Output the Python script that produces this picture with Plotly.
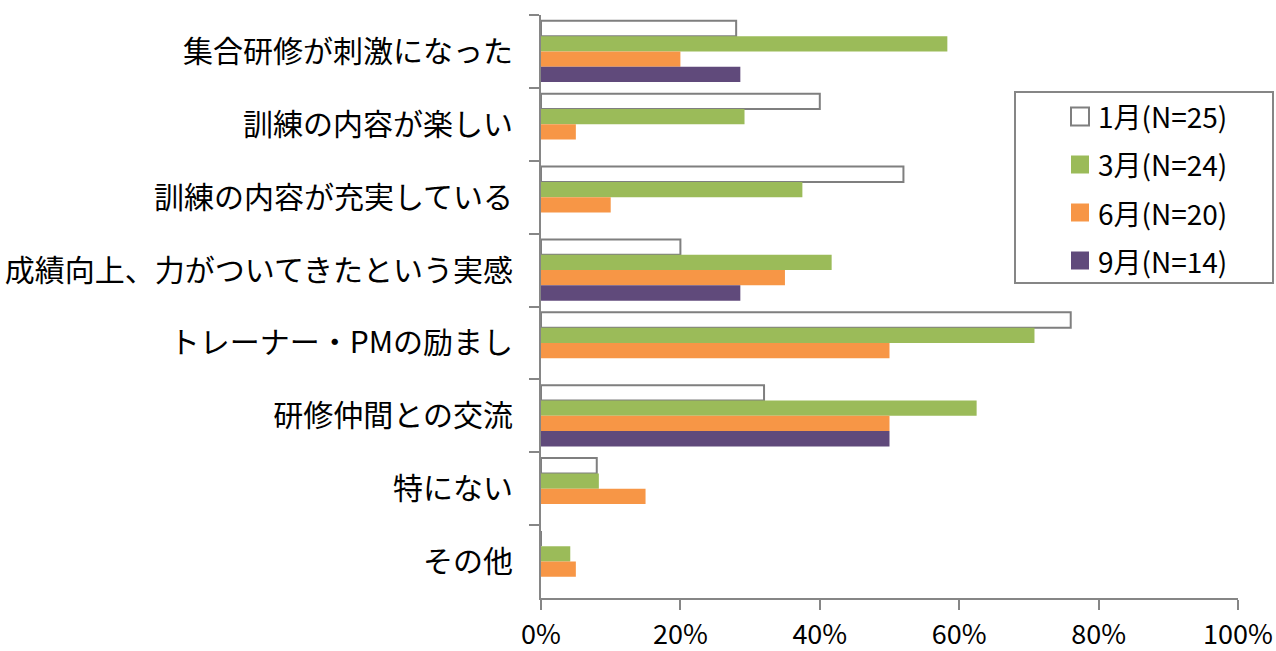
import plotly.graph_objects as go

# Survey categories (top to bottom)
categories = [
    "集合研修が刺激になった",
    "訓練の内容が楽しい",
    "訓練の内容が充実している",
    "成績向上、力がついてきたという実感",
    "トレーナー・PMの励まし",
    "研修仲間との交流",
    "特にない",
    "その他",
]

# Share of respondents (%) per survey month
series_names = ["1月(N=25)", "3月(N=24)", "6月(N=20)", "9月(N=14)"]
jan = [28, 40, 52, 20, 76, 32, 8, 0]
mar = [58.3, 29.2, 37.5, 41.7, 70.8, 62.5, 8.3, 4.2]
jun = [20, 5, 10, 35, 50, 50, 15, 5]
sep = [28.6, 0, 0, 28.6, 0, 50, 0, 0]

x_ticks = [0, 20, 40, 60, 80, 100]

fills = ["#FFFFFF", "#9BBB59", "#F79646", "#604A7B"]
edges = ["#7F7F7F", "#9BBB59", "#F79646", "#604A7B"]
edge_w = [2, 0, 0, 0]

FONT = "Noto Sans CJK JP, Noto Sans, sans-serif"
AXIS_GREY = "#868686"

W, H = 1276, 651
L, R, T, B = 541, 38, 15, 53
PW, PH = W - L - R, H - T - B

fig = go.Figure()
for name, vals, fc, ec, lw in zip(series_names, [jan, mar, jun, sep], fills, edges, edge_w):
    fig.add_trace(go.Bar(
        y=categories, x=vals, name=name, orientation="h",
        marker=dict(color=fc, line=dict(color=ec, width=lw)),
        showlegend=False,
    ))


def px_x(px):
    return (px - L) / PW


def px_y(py):
    return 1 - (py - T) / PH


# Legend drawn as a framed box with swatches and labels
shapes = [dict(type="rect", xref="paper", yref="paper",
               x0=px_x(1015), x1=px_x(1273), y0=px_y(283), y1=px_y(92),
               line=dict(color=AXIS_GREY, width=2), fillcolor="white")]
annotations = []
for i, (name, fc, ec, lw) in enumerate(zip(series_names, fills, edges, edge_w)):
    cy = 116.5 + i * 48
    shapes.append(dict(type="rect", xref="paper", yref="paper",
                       x0=px_x(1071), x1=px_x(1089), y0=px_y(cy + 9), y1=px_y(cy - 9),
                       fillcolor=fc, line=dict(color=ec, width=lw if lw else 0)))
    annotations.append(dict(xref="paper", yref="paper", x=px_x(1096), y=px_y(cy),
                            xanchor="left", yanchor="middle", showarrow=False,
                            text=name, font=dict(family=FONT, size=28, color="#000000")))

fig.update_layout(
    width=W, height=H,
    margin=dict(l=L, r=R, t=T, b=B, pad=0, autoexpand=False),
    paper_bgcolor="white", plot_bgcolor="white",
    barmode="group", bargap=0.16, bargroupgap=0,
    font=dict(family=FONT, color="#000000"),
    shapes=shapes, annotations=annotations,
    xaxis=dict(
        range=[0, 100], tickvals=x_ticks, ticktext=[f"{v}%" for v in x_ticks],
        showgrid=False, zeroline=False, showline=True, linecolor=AXIS_GREY, linewidth=2,
        ticks="outside", ticklen=10, tickwidth=2, tickcolor=AXIS_GREY,
        tickfont=dict(family=FONT, size=27, color="#000000"), ticklabelstandoff=2,
        automargin=False,
    ),
    yaxis=dict(
        autorange="reversed", showgrid=False, zeroline=False,
        showline=True, linecolor=AXIS_GREY, linewidth=2,
        ticks="outside", ticklen=10, tickwidth=2, tickcolor=AXIS_GREY,
        tickson="boundaries",
        tickfont=dict(family=FONT, size=30, color="#000000"), ticklabelstandoff=20,
        automargin=False,
    ),
)

fig.write_html("out.html")
